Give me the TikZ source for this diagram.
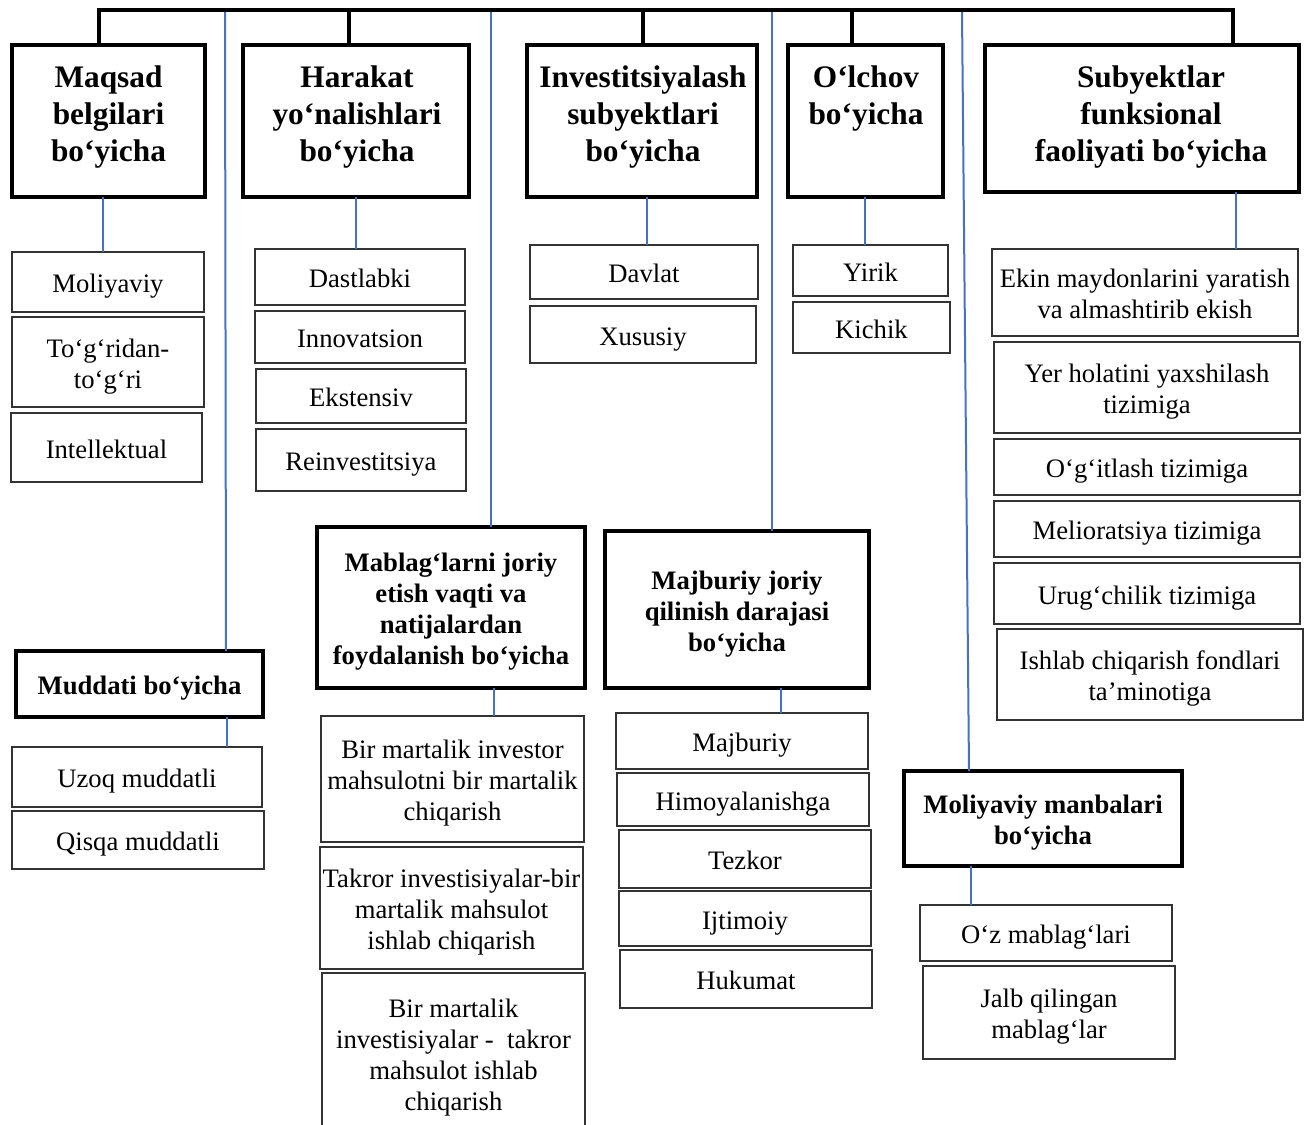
\documentclass[tikz,border=0pt]{standalone}
\usepackage{fontspec}
\setmainfont{Liberation Serif}
\definecolor{linkblue}{RGB}{68,114,196}

% struts that fix the first-line height and the last-line depth of a cell text
\newcommand\topstrut{\rule{0pt}{20.5pt}}
\newcommand\botstrut{\rule[-4.75pt]{0pt}{4.75pt}}
% boxed cell given by its corners: style, name, x1, y1, x2, y2, text
\newcommand\cellbox[7]{%
  \node[#1, minimum width={(#5-#3)*0.75pt}, minimum height={(#6-#4)*0.75pt}]
    (#2) at ({(#3+#5)/2},{(#4+#6)/2}) {\topstrut#7\botstrut};}
% top-level heading: name, x1, y1, x2, y2, text centre x, text (set from the top)
\newcommand\headbox[7]{%
  \node[hdbox, minimum width={(#4-#2)*0.75pt}, minimum height={(#5-#3)*0.75pt}]
    (#1) at ({(#2+#4)/2},{(#3+#5)/2}) {};
  \node[hdtext] (#1-txt) at (#6,66) {#7};}

\begin{document}
\begin{tikzpicture}[x=0.75pt,y=-0.75pt,
  every node/.style={inner sep=0pt, outer sep=0pt, align=center},
  hdbox/.style={draw=black, line width=3pt},
  hdtext/.style={font=\bfseries\fontsize{23.5}{27.75}\selectfont, anchor=north},
  subhd/.style={draw=black, line width=3pt, font=\bfseries\fontsize{20}{23.25}\selectfont},
  item/.style={draw=black!80, line width=1pt, font=\fontsize{20}{23.25}\selectfont},
  bar/.style={draw=black, line width=3pt, line join=miter},
  conn/.style={draw=linkblue, line width=1.5pt}
]
\useasboundingbox (0,0) rectangle (1309,1124);

% ---- top-level classification headings
\headbox{maqsad}{12}{45}{205}{197}{108.5}{Maqsad\\belgilari\\bo‘yicha}
\headbox{harakat}{243}{45}{469}{197}{357}{Harakat\\yo‘nalishlari\\bo‘yicha}
\headbox{invest}{527}{45}{757}{197}{643}{Investitsiyalash\\subyektlari\\bo‘yicha}
\headbox{olchov}{788}{45}{943}{197}{866}{O‘lchov\\bo‘yicha}
\headbox{subyekt}{985}{45}{1299}{192}{1151}{Subyektlar\\funksional\\faoliyati bo‘yicha}

% ---- second-level headings
\cellbox{subhd}{muddati}{16}{651}{263}{717}{Muddati bo‘yicha}
\cellbox{subhd}{mablag}{317}{527}{585}{688}{Mablag‘larni joriy\\etish vaqti va\\natijalardan\\foydalanish bo‘yicha}
\cellbox{subhd}{majburiy}{605}{531}{869}{688}{Majburiy joriy\\qilinish darajasi\\bo‘yicha}
\cellbox{subhd}{manba}{904}{771}{1182}{866}{Moliyaviy manbalari\\bo‘yicha}

% ---- items
\cellbox{item}{moliyaviy}{12}{252}{204}{312}{Moliyaviy}
\cellbox{item}{togri}{12}{317}{204}{407}{To‘g‘ridan-\\to‘g‘ri}
\cellbox{item}{intel}{11}{413}{202}{482}{Intellektual}

\cellbox{item}{dast}{255}{249}{465}{305}{Dastlabki}
\cellbox{item}{innov}{255}{311}{465}{363}{Innovatsion}
\cellbox{item}{ekst}{256}{369}{466}{423}{Ekstensiv}
\cellbox{item}{reinv}{256}{429}{466}{491}{Reinvestitsiya}

\cellbox{item}{davlat}{530}{245}{758}{299}{Davlat}
\cellbox{item}{xusus}{530}{306}{756}{363}{Xususiy}

\cellbox{item}{yirik}{793}{245}{948}{296}{Yirik}
\cellbox{item}{kichik}{793}{302}{950}{353}{Kichik}

\cellbox{item}{ekin}{992}{249}{1298}{336}{Ekin maydonlarini yaratish\\va almashtirib ekish}
\cellbox{item}{yer}{994}{342}{1300}{433}{Yer holatini yaxshilash\\tizimiga}
\cellbox{item}{ogit}{994}{439}{1300}{495}{O‘g‘itlash tizimiga}
\cellbox{item}{melio}{994}{501}{1300}{557}{Melioratsiya tizimiga}
\cellbox{item}{urug}{994}{563}{1300}{624}{Urug‘chilik tizimiga}
\cellbox{item}{ishlab}{997}{629}{1303}{720}{Ishlab chiqarish fondlari\\ta’minotiga}

\cellbox{item}{uzoq}{12}{747}{262}{807}{Uzoq muddatli}
\cellbox{item}{qisqa}{12}{811}{264}{869}{Qisqa muddatli}

\cellbox{item}{birm}{321}{716}{584}{842}{Bir martalik investor\\mahsulotni bir martalik\\chiqarish}
\cellbox{item}{takror}{320}{847}{583}{969}{Takror investisiyalar-bir\\martalik mahsulot\\ishlab chiqarish}
\cellbox{item}{birinv}{322}{973}{585}{1134}{Bir martalik\\investisiyalar -\ \ takror\\mahsulot ishlab\\chiqarish}

\cellbox{item}{majb}{616}{713}{868}{769}{Majburiy}
\cellbox{item}{himoya}{617}{773}{869}{826}{Himoyalanishga}
\cellbox{item}{tezkor}{619}{830}{871}{888}{Tezkor}
\cellbox{item}{ijtim}{619}{891}{871}{946}{Ijtimoiy}
\cellbox{item}{hukumat}{620}{950}{872}{1008}{Hukumat}

\cellbox{item}{oz}{920}{905}{1172}{961}{O‘z mablag‘lari}
\cellbox{item}{jalb}{923}{966}{1175}{1059}{Jalb qilingan\\mablag‘lar}

% ---- blue branches hanging from the top bar
\coordinate (br1) at (225,12);
\coordinate (br2) at (491,12);
\coordinate (br3) at (772,12);
\coordinate (br4) at (962,12);
\draw[conn] (br1) -- (226,0 |- muddati.north);
\draw[conn] (br2) -- (br2 |- mablag.north);
\draw[conn] (br3) -- (br3 |- majburiy.north);
\draw[conn] (br4) -- (969,0 |- manba.north);

% ---- blue links from headings to their first item
\draw[conn] (103,0 |- maqsad.south) -- (103,0 |- moliyaviy.north);
\draw[conn] (356,0 |- harakat.south) -- (356,0 |- dast.north);
\draw[conn] (647,0 |- invest.south) -- (647,0 |- davlat.north);
\draw[conn] (865,0 |- olchov.south) -- (865,0 |- yirik.north);
\draw[conn] (1236,0 |- subyekt.south) -- (1236,0 |- ekin.north);
\draw[conn] (227,0 |- muddati.south) -- (227,0 |- uzoq.north);
\draw[conn] (494,0 |- mablag.south) -- (494,0 |- birm.north);
\draw[conn] (781,0 |- majburiy.south) -- (781,0 |- majb.north);
\draw[conn] (971,0 |- manba.south) -- (971,0 |- oz.north);

% ---- black top bar with drops to the headings
\coordinate (barL) at (99,10);
\coordinate (bar2) at (349,10);
\coordinate (bar3) at (643,10);
\coordinate (bar4) at (852,10);
\coordinate (barR) at (1233,10);
\draw[bar] (barL |- maqsad.north) -- (barL) -- (barR) -- (barR |- subyekt.north);
\draw[bar] (bar2) -- (bar2 |- harakat.north);
\draw[bar] (bar3) -- (bar3 |- invest.north);
\draw[bar] (bar4) -- (bar4 |- olchov.north);
\end{tikzpicture}
\end{document}
